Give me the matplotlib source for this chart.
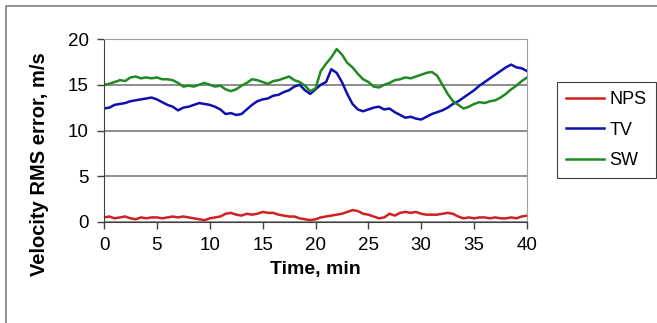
import numpy as np
import matplotlib
matplotlib.use("Agg")
import matplotlib.pyplot as plt
from matplotlib.patches import Rectangle

plt.rcParams['font.family'] = ['Liberation Sans', 'DejaVu Sans']

# sample times, minutes (every half minute)
time_min = np.arange(81) * 0.5

nps = [0.5, 0.6, 0.4, 0.5, 0.6, 0.4, 0.3, 0.5, 0.4, 0.5,
       0.5, 0.4, 0.5, 0.6, 0.5, 0.6, 0.5, 0.4, 0.3, 0.2,
       0.4, 0.5, 0.6, 0.9, 1.0, 0.8, 0.7, 0.9, 0.8, 0.9,
       1.1, 1.0, 1.0, 0.8, 0.7, 0.6, 0.6, 0.4, 0.3, 0.2,
       0.3, 0.5, 0.6, 0.7, 0.8, 0.9, 1.1, 1.3, 1.2, 0.9,
       0.8, 0.6, 0.4, 0.5, 0.9, 0.7, 1.0, 1.1, 1.0, 1.1,
       0.9, 0.8, 0.8, 0.8, 0.9, 1.0, 0.9, 0.6, 0.4, 0.5,
       0.4, 0.5, 0.5, 0.4, 0.5, 0.4, 0.4, 0.5, 0.4, 0.6,
       0.7]

tv = [12.4, 12.5, 12.8, 12.9, 13.0, 13.2, 13.3, 13.4, 13.5, 13.6,
      13.4, 13.1, 12.8, 12.6, 12.2, 12.5, 12.6, 12.8, 13.0, 12.9,
      12.8, 12.6, 12.3, 11.8, 11.9, 11.7, 11.8, 12.3, 12.8, 13.2,
      13.4, 13.5, 13.8, 13.9, 14.2, 14.4, 14.8, 15.0, 14.4, 14.0,
      14.5, 15.0, 15.3, 16.7, 16.3, 15.3, 14.0, 12.9, 12.3, 12.1,
      12.3, 12.5, 12.6, 12.3, 12.4, 12.0, 11.7, 11.4, 11.5, 11.3,
      11.2, 11.5, 11.8, 12.0, 12.2, 12.5, 12.9, 13.2, 13.6, 14.0,
      14.4, 14.9, 15.3, 15.7, 16.1, 16.5, 16.9, 17.2, 16.9, 16.8,
      16.5]

sw = [15.0, 15.1, 15.3, 15.5, 15.4, 15.8, 15.9, 15.7, 15.8, 15.7,
      15.8, 15.6, 15.6, 15.5, 15.2, 14.8, 14.9, 14.8, 15.0, 15.2,
      15.0, 14.8, 14.9, 14.5, 14.3, 14.5, 14.9, 15.2, 15.6, 15.5,
      15.3, 15.1, 15.4, 15.5, 15.7, 15.9, 15.5, 15.3, 14.9, 14.3,
      14.6, 16.5, 17.3, 18.0, 18.9, 18.3, 17.4, 16.9, 16.2, 15.6,
      15.3, 14.8, 14.7, 15.0, 15.2, 15.5, 15.6, 15.8, 15.7, 15.9,
      16.1, 16.3, 16.4, 16.0, 15.0, 14.0, 13.2, 12.8, 12.4, 12.6,
      12.9, 13.1, 13.0, 13.2, 13.3, 13.6, 14.0, 14.5, 14.9, 15.4,
      15.8]

series = [("NPS", nps, "#d02020"), ("TV", tv, "#1010b0"), ("SW", sw, "#208a20")]

fig = plt.figure(figsize=(6.57, 3.23), dpi=100)
ax = fig.add_axes([104 / 657, 1 - 222 / 323, 423 / 657, 183 / 323])

for name, vals, col in series:
    ax.plot(time_min, vals, color=col, lw=1.8, label=name)

ax.set_xlim(0, 40)
ax.set_ylim(0, 20)
ax.set_xticks(range(0, 41, 5))
ax.set_yticks(range(0, 21, 5))
ax.yaxis.grid(True, color="#7a7a7a", lw=1.2)
ax.set_axisbelow(True)
ax.tick_params(labelsize=13.5, length=5, width=1, color="#404040", pad=6)

ax.spines["left"].set_color("#404040")
ax.spines["bottom"].set_color("#404040")
ax.spines["top"].set_color("#a0a0a0")
ax.spines["right"].set_color("#a0a0a0")

ax.set_xlabel("Time, min", fontsize=14, fontweight="bold", labelpad=5)
fig.text(40 / 657, 1 - 164 / 323, "Velocity RMS error, m/s", rotation=90,
         fontsize=14.5, fontweight="bold", ha="center", va="center")

leg = fig.legend(loc="upper left", bbox_to_anchor=(557 / 657, 1 - 82 / 323),
                 fontsize=13, handlelength=2.1, labelspacing=0.75, handletextpad=0.3,
                 fancybox=False, borderaxespad=0, borderpad=0.5, framealpha=1)
leg.get_frame().set_edgecolor("#404040")
leg.get_frame().set_linewidth(0.8)

# outer chart frame (left and top edges visible)
fig.patches.append(Rectangle((6 / 657, -0.1), 1.2, 1 - 6 / 323 + 0.1,
                             transform=fig.transFigure, fill=False,
                             edgecolor="#808080", lw=1.2))

fig.savefig("out.png", dpi=100)
